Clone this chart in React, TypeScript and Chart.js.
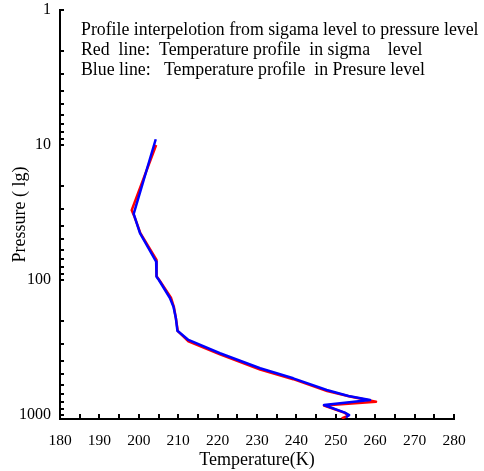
import React, { useEffect, useRef } from "react";
import { Chart, registerables } from "chart.js";

Chart.register(...registerables);

// Blue line: temperature profile on pressure levels
const blueTemp = [204.3, 198.7, 200.3, 204.4, 204.5, 205.1, 207.9, 208.8, 209.4, 209.8, 212.6, 220.6, 230.8, 239.2, 247.7, 253.2, 258.7, 247.0, 252.3, 253.4, 252.6];
const bluePres = [9.07, 32.4, 44.9, 73.1, 94.5, 100, 136, 158, 191, 238, 278, 349, 451, 535, 653, 723, 774, 843, 961, 1000, 1040];

// Red line: temperature profile on sigma levels
const redTemp = [204.4, 198.2, 198.8, 200.4, 204.5, 204.5, 205.4, 208.2, 208.9, 209.4, 209.9, 212.6, 220.6, 230.8, 239.2, 247.8, 253.6, 260.2, 247.0, 252.3, 253.2, 251.5];
const redPres = [10, 30.4, 33.4, 45, 71, 93.6, 102, 136, 158, 191, 239, 285, 356, 461, 543, 665, 730, 797, 850, 965, 1010, 1062];

const xTickValues = [180, 190, 200, 210, 220, 230, 240, 250, 260, 270, 280];
const yLabelValues = [1, 10, 100, 1000];

const noteLines = [
  "Profile interpelotion from sigama level to pressure level",
  "Red  line:  Temperature profile  in sigma    level",
  "Blue line:   Temperature profile  in Presure level",
];

const FONT = "'Liberation Serif', 'Times New Roman', serif";

export default function App() {
  const ref = useRef<HTMLCanvasElement | null>(null);

  useEffect(() => {
    const canvas = ref.current;
    if (!canvas) return;

    const innerTicks = {
      id: "innerTicks",
      afterDraw(chart: any) {
        const ctx = chart.ctx;
        const xs = chart.scales.x;
        const ys = chart.scales.y;
        const area = chart.chartArea;
        ctx.save();
        ctx.strokeStyle = "#000";
        ctx.lineWidth = 2;
        for (let dec = 1; dec <= 1000; dec *= 10) {
          for (let m = 1; m <= 9; m++) {
            const v = dec * m;
            if (v > ys.max) break;
            const py = Math.round(ys.getPixelForValue(v));
            ctx.beginPath();
            ctx.moveTo(area.left, py);
            ctx.lineTo(area.left + 4, py);
            ctx.stroke();
          }
        }
        for (let v = 180; v <= 280; v += 5) {
          const px = Math.round(xs.getPixelForValue(v));
          ctx.beginPath();
          ctx.moveTo(px, area.bottom);
          ctx.lineTo(px, area.bottom - 5);
          ctx.stroke();
        }
        ctx.fillStyle = "#000";
        ctx.font = `17.8px ${FONT}`;
        ctx.textBaseline = "middle";
        ctx.textAlign = "left";
        noteLines.forEach((t, i) => {
          ctx.fillText(t, 81, 30 + i * 20);
        });
        ctx.restore();
      },
    };

    const chart = new Chart(canvas, {
      type: "scatter",
      data: {
        datasets: [
          {
            label: "Pressure level",
            data: blueTemp.map((t, i) => ({ x: t, y: bluePres[i] })),
            showLine: true,
            borderColor: "#0000ff",
            backgroundColor: "#0000ff",
            borderWidth: 2.5,
            borderJoinStyle: "round",
            pointRadius: 0,
            order: 0,
          },
          {
            label: "Sigma level",
            data: redTemp.map((t, i) => ({ x: t, y: redPres[i] })),
            showLine: true,
            borderColor: "#ff0000",
            backgroundColor: "#ff0000",
            borderWidth: 2.5,
            borderJoinStyle: "round",
            pointRadius: 0,
            order: 1,
          },
        ],
      },
      options: {
        animation: false,
        responsive: false,
        maintainAspectRatio: false,
        layout: { padding: { left: 0, right: 30, top: 10, bottom: 0 } },
        plugins: {
          legend: { display: false },
          tooltip: { enabled: false },
        },
        scales: {
          x: {
            type: "linear",
            min: 180,
            max: 280,
            afterFit: (s: any) => {
              s.height = 52;
              s.paddingLeft = 0;
              s.paddingRight = 0;
            },
            afterBuildTicks: (s: any) => {
              s.ticks = xTickValues.map((v) => ({ value: v }));
            },
            grid: { display: false, drawTicks: false },
            border: { display: true, color: "#000", width: 2 },
            ticks: {
              color: "#000",
              font: { family: FONT, size: 15.5 },
              padding: 13,
              maxRotation: 0,
              autoSkip: false,
            },
            title: {
              display: true,
              text: "Temperature(K)",
              color: "#000",
              font: { family: FONT, size: 18 },
              padding: { top: 0, bottom: 0 },
            },
          },
          y: {
            type: "logarithmic",
            reverse: true,
            min: 1,
            max: 1071,
            afterFit: (s: any) => {
              s.width = 60;
              s.paddingTop = 0;
              s.paddingBottom = 0;
            },
            afterBuildTicks: (s: any) => {
              s.ticks = yLabelValues.map((v) => ({ value: v }));
            },
            grid: { display: false, drawTicks: false },
            border: { display: true, color: "#000", width: 2 },
            ticks: {
              color: "#000",
              font: { family: FONT, size: 16 },
              padding: 9,
              autoSkip: false,
              callback: (v: any) => String(v),
            },
            title: {
              display: true,
              text: "Pressure ( lg)",
              color: "#000",
              font: { family: FONT, size: 18 },
              padding: { top: 9, bottom: 0 },
            },
          },
        },
      },
      plugins: [innerTicks],
    });

    return () => chart.destroy();
  }, []);

  return (
    <div style={{ position: "fixed", left: 0, top: 0, width: 484, height: 471, background: "#fff" }}>
      <canvas ref={ref} width={484} height={471} style={{ display: "block", width: 484, height: 471 }} />
    </div>
  );
}
